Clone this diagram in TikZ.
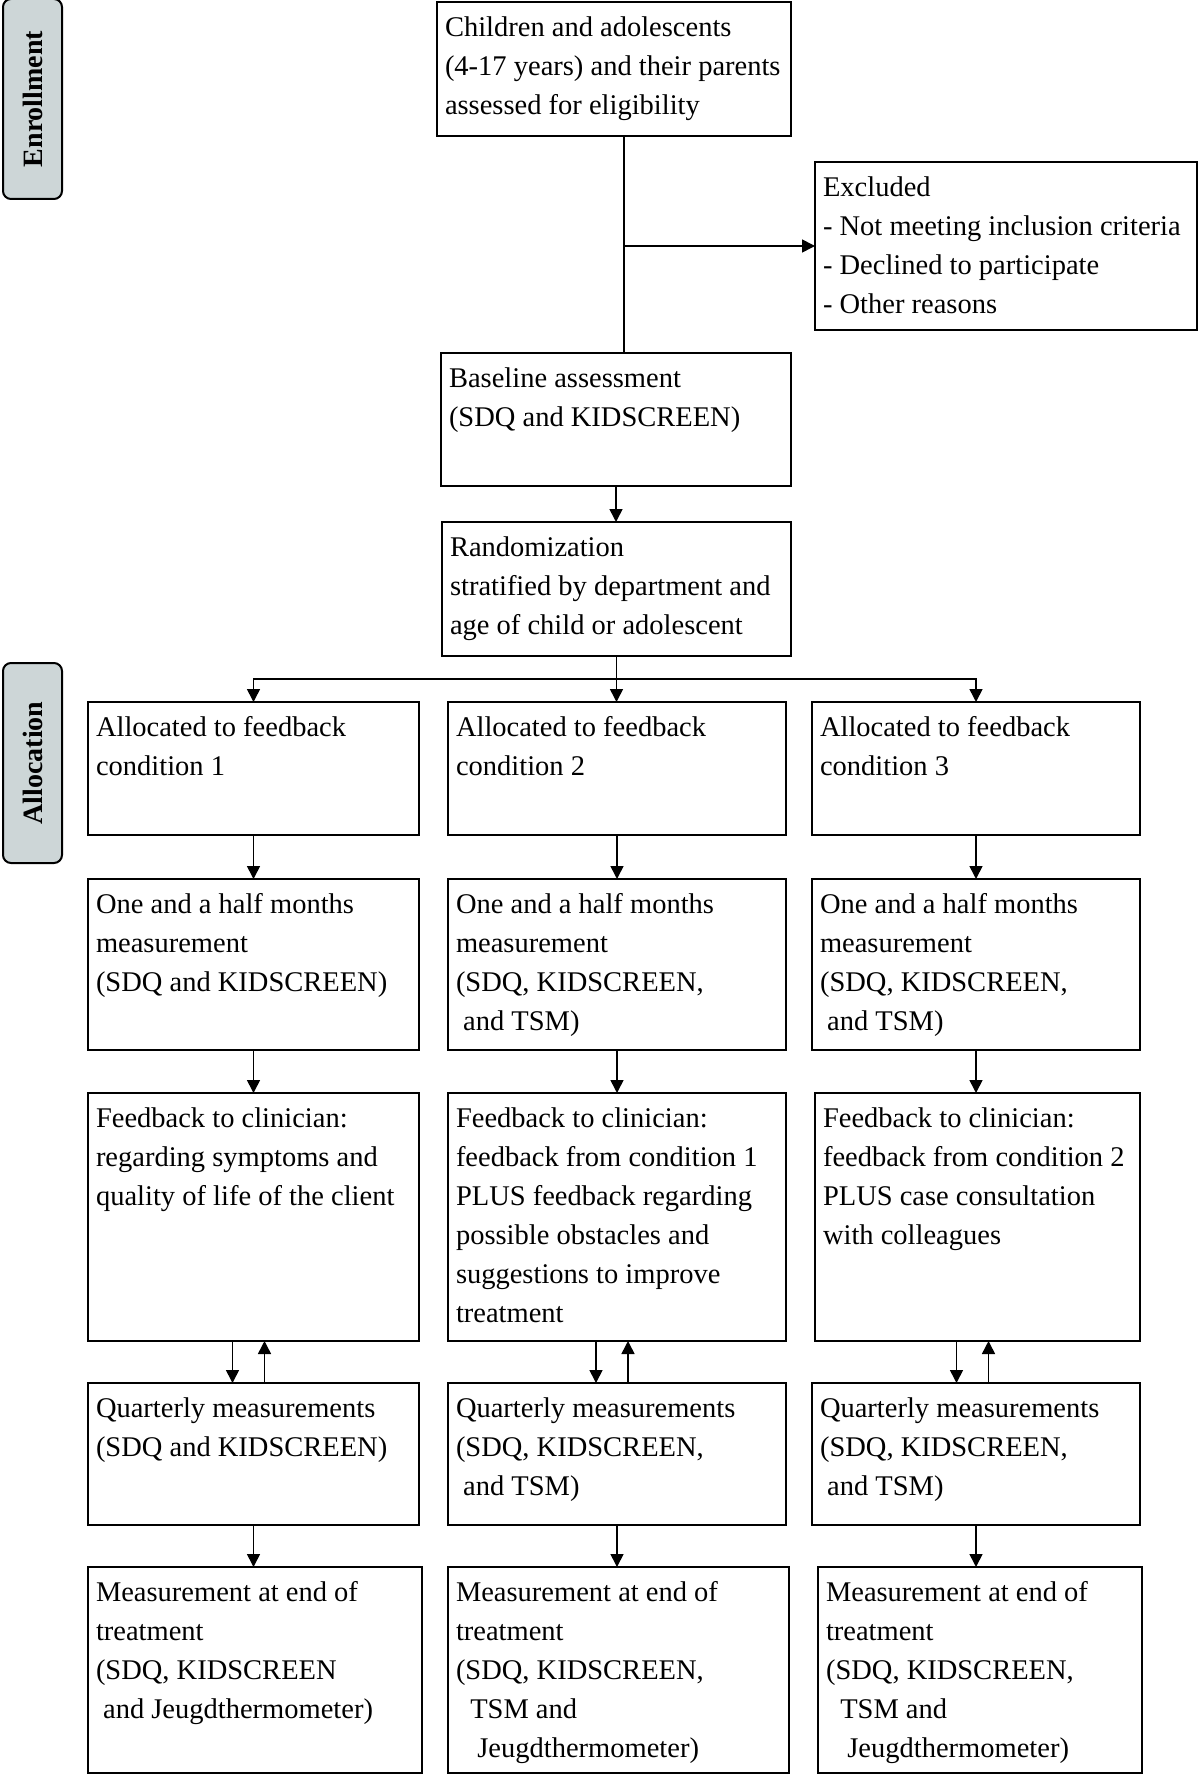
\documentclass[tikz,border=0pt]{standalone}
\usepackage{fontspec}
\setmainfont{Liberation Serif}
\usetikzlibrary{arrows.meta}
\definecolor{grigioblu}{HTML}{CDD6D7}

\begin{document}
\begin{tikzpicture}[x=1pt, y=-1pt]
	% Stili per blocchi, fasi e frecce
	\tikzset{
		blocco/.style={draw, line width=2pt, anchor=north west, outer sep=0pt, align=flush left,
			inner xsep=8pt, inner ysep=7pt, text height=27.3pt, font=\fontsize{28.5}{39}\selectfont,
			execute at begin node={\spaceskip=.25em\relax\hyphenpenalty=10000\relax}},
		taglia/.code 2 args={\pgfmathsetmacro\largh{#1-16}\pgfmathsetmacro\profd{#2-41.3}%
			\tikzset{text width=\largh pt, text depth=\profd pt}},
		fase/.style={draw, line width=2pt, fill=grigioblu, rounded corners=8pt, rotate=90,
			minimum width=200pt, minimum height=59pt, inner sep=0pt, font=\fontsize{28}{34}\selectfont\bfseries},
		linea/.style={line width=1.6pt},
		freccia/.style={line width=1.6pt, -{Triangle[width=13pt, length=13pt]}},
	}
	\useasboundingbox (0,0) rectangle (1200,1776);
	
	% Fasi
	\node[fase] (iscrizione) at (32.5,99) {Enrollment};
	\node[fase] (allocazione) at (32.5,763) {Allocation};
	
	% Blocchi iniziali
	\node[blocco, taglia={354}{134}] (iscritti) at (437,2) {Children and adolescents\\(4-17 years) and their parents\\assessed for eligibility};
	\node[blocco, taglia={382}{168}] (esclusi) at (815,162) {Excluded\\- Not meeting inclusion criteria\\- Declined to participate\\- Other reasons};
	\node[blocco, taglia={350}{133}] (baseline) at (441,353) {Baseline assessment\\(SDQ and KIDSCREEN)};
	\node[blocco, taglia={349}{134}] (random) at (442,522) {Randomization\\stratified by department and\\age of child or adolescent};
	
	% Condizioni
	\node[blocco, taglia={331}{133}] (alloc1) at (88,702) {Allocated to feedback\\condition 1};
	\node[blocco, taglia={338}{133}] (alloc2) at (448,702) {Allocated to feedback\\condition 2};
	\node[blocco, taglia={328}{133}] (alloc3) at (812,702) {Allocated to feedback\\condition 3};
	
	\node[blocco, taglia={331}{171}] (misura1) at (88,879) {One and a half months\\measurement\\(SDQ and KIDSCREEN)};
	\node[blocco, taglia={338}{171}] (misura2) at (448,879) {One and a half months\\measurement\\(SDQ, KIDSCREEN,\\\hspace*{.25em}and TSM)};
	\node[blocco, taglia={328}{171}] (misura3) at (812,879) {One and a half months\\measurement\\(SDQ, KIDSCREEN,\\\hspace*{.25em}and TSM)};
	
	\node[blocco, taglia={331}{248}] (feed1) at (88,1093) {Feedback to clinician:\\regarding symptoms and\\quality of life of the client};
	\node[blocco, taglia={338}{248}] (feed2) at (448,1093) {Feedback to clinician:\\feedback from condition 1\\PLUS feedback regarding\\possible obstacles and\\suggestions to improve\\treatment};
	\node[blocco, taglia={325}{248}] (feed3) at (815,1093) {Feedback to clinician:\\feedback from condition 2\\PLUS case consultation\\with colleagues};
	
	\node[blocco, taglia={331}{142}] (trim1) at (88,1383) {Quarterly measurements\\(SDQ and KIDSCREEN)};
	\node[blocco, taglia={338}{142}] (trim2) at (448,1383) {Quarterly measurements\\(SDQ, KIDSCREEN,\\\hspace*{.25em}and TSM)};
	\node[blocco, taglia={328}{142}] (trim3) at (812,1383) {Quarterly measurements\\(SDQ, KIDSCREEN,\\\hspace*{.25em}and TSM)};
	
	\node[blocco, taglia={334}{206}] (fine1) at (88,1567) {Measurement at end of\\treatment\\(SDQ, KIDSCREEN\\\hspace*{.25em}and Jeugdthermometer)};
	\node[blocco, taglia={341}{206}] (fine2) at (448,1567) {Measurement at end of\\treatment\\(SDQ, KIDSCREEN,\\\hspace*{.5em}TSM and\\\hspace*{.75em}Jeugdthermometer)};
	\node[blocco, taglia={324}{206}] (fine3) at (818,1567) {Measurement at end of\\treatment\\(SDQ, KIDSCREEN,\\\hspace*{.5em}TSM and\\\hspace*{.75em}Jeugdthermometer)};
	
	% Collegamenti in alto
	\draw[linea] ([xshift=10pt]iscritti.south) -- ([xshift=10pt]iscritti.south |- baseline.north);
	\draw[freccia] ([xshift=10pt]iscritti.south |- esclusi.west) -- (esclusi.west);
	\draw[freccia] (baseline.south) -- (baseline.south |- random.north);
	\draw[freccia] (random.south) -- (random.south |- alloc2.north);
	\draw[freccia] ([yshift=23pt]alloc3.north) -| (alloc1.north);
	\draw[freccia] ([yshift=23pt]alloc1.north) -| (alloc3.north);
	
	% Colonna 1
	\draw[freccia] (alloc1.south) -- (alloc1.south |- misura1.north);
	\draw[freccia] (misura1.south) -- (misura1.south |- feed1.north);
	\draw[freccia] ([xshift=-21pt]feed1.south) -- ([xshift=-21pt]feed1.south |- trim1.north);
	\draw[freccia] ([xshift=11pt]feed1.south |- trim1.north) -- ([xshift=11pt]feed1.south);
	\draw[freccia] (trim1.south) -- (trim1.south |- fine1.north);
	
	% Colonna 2
	\draw[freccia] (alloc2.south) -- (alloc2.south |- misura2.north);
	\draw[freccia] (misura2.south) -- (misura2.south |- feed2.north);
	\draw[freccia] ([xshift=-21pt]feed2.south) -- ([xshift=-21pt]feed2.south |- trim2.north);
	\draw[freccia] ([xshift=11pt]feed2.south |- trim2.north) -- ([xshift=11pt]feed2.south);
	\draw[freccia] (trim2.south) -- (trim2.south |- fine2.north);
	
	% Colonna 3
	\draw[freccia] (alloc3.south) -- (alloc3.south |- misura3.north);
	\draw[freccia] (misura3.south) -- (misura3.south |- feed3.north);
	\draw[freccia] ([xshift=-21pt]feed3.south) -- ([xshift=-21pt]feed3.south |- trim3.north);
	\draw[freccia] ([xshift=11pt]feed3.south |- trim3.north) -- ([xshift=11pt]feed3.south);
	\draw[freccia] (trim3.south) -- (trim3.south |- fine3.north);
\end{tikzpicture}
\end{document}
